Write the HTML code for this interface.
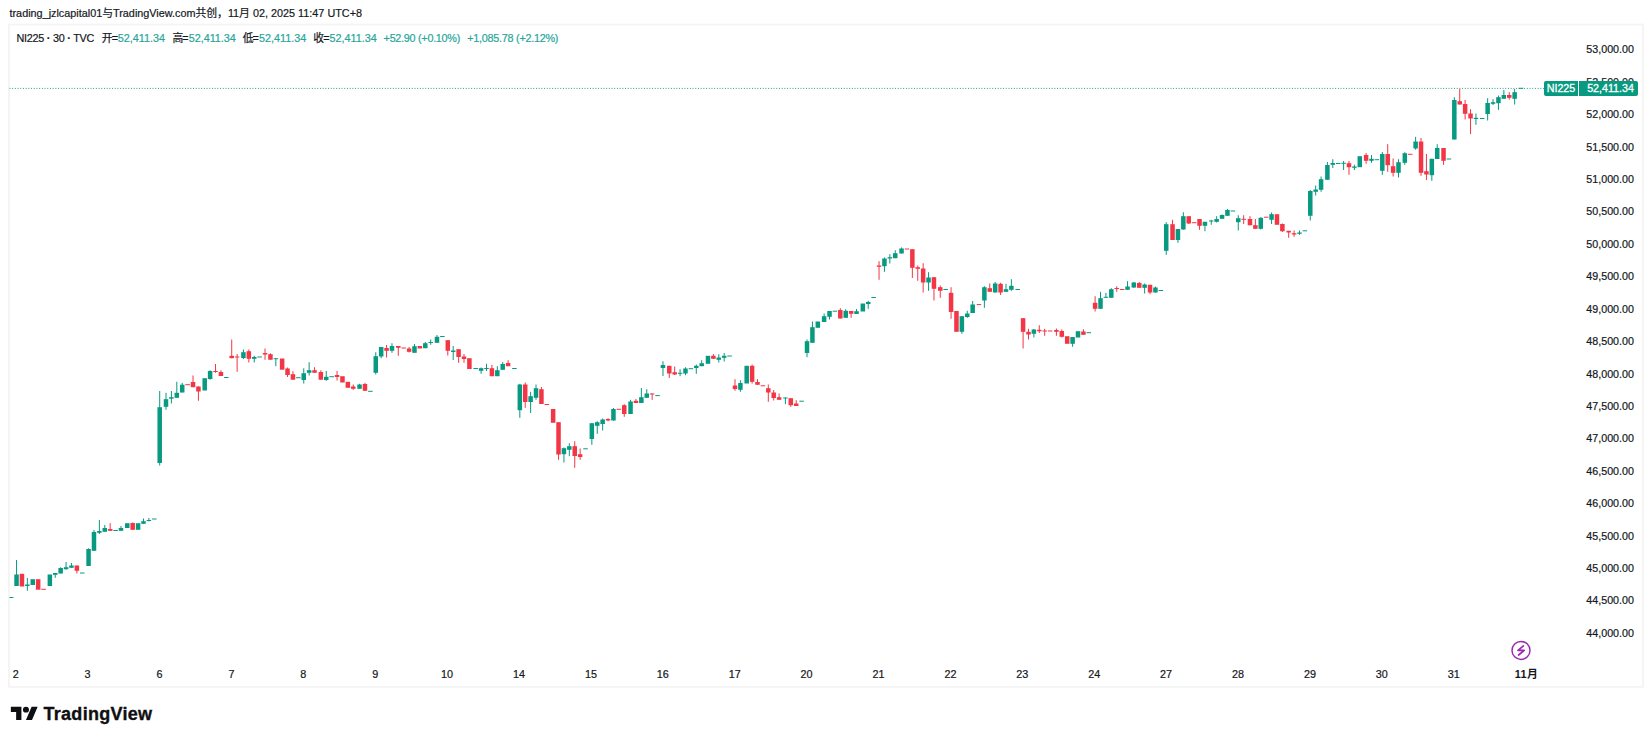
<!DOCTYPE html>
<html lang="zh"><head><meta charset="utf-8"><title>NI225 chart</title>
<style>
html,body{margin:0;padding:0;background:#fff;}
body{width:1652px;height:741px;position:relative;overflow:hidden;font-family:"Liberation Sans","Noto Sans CJK SC",sans-serif;color:#131722;}
#hdr{position:absolute;left:9.5px;top:5px;height:16px;line-height:16px;font-size:10.8px;white-space:nowrap;color:#131722;letter-spacing:0.014px;}
#frame{position:absolute;left:8.05px;top:23.6px;width:1635.85px;height:664.2px;border:1.8px solid #f4f4f6;box-sizing:border-box;}
.lg{position:absolute;top:30px;transform:translateY(-0.5px);height:16px;line-height:16px;font-size:10.8px;white-space:nowrap;color:#131722;}
.lg.g{color:#26a69a;}
.pl,.tl,.lg,#hdr{-webkit-text-stroke:0.2px currentColor;}
.pl{position:absolute;right:18.09999999999991px;height:14px;line-height:14px;font-size:10.7px;white-space:nowrap;color:#131722;}
.tl{position:absolute;top:667px;width:40px;text-align:center;height:14px;line-height:14px;font-size:10.8px;white-space:nowrap;color:#131722;}
.tl.b{font-weight:bold;letter-spacing:0.5px;-webkit-text-stroke:0;}
#chart{position:absolute;left:0;top:0;}
#tag1,#tag2{position:absolute;top:81.2px;height:15px;line-height:15px;background:#089981;color:#fff;font-size:10.7px;white-space:nowrap;text-align:center;border-radius:2px;-webkit-text-stroke:0.3px #fff;}
#tag1{left:1544px;width:34px;border-radius:2px 0 0 2px;}
#tag2{left:1579px;width:54.9px;padding-right:4.1px;text-align:right;border-radius:0 2px 2px 0;}
#logo{position:absolute;left:0;top:0;}
#logotxt{position:absolute;left:43.5px;top:702px;height:24px;line-height:24px;font-size:18px;font-weight:bold;color:#0f0f12;-webkit-text-stroke:0.35px #0f0f12;white-space:nowrap;letter-spacing:0.282px;}
</style></head><body>
<div id="hdr">trading_jzlcapital01与TradingView.com共创，11月 02, 2025 11:47 UTC+8</div>

<span id="s0" class="lg " style="left:16.5px;letter-spacing:-0.247px">NI225 <b>·</b> 30 <b>·</b> TVC</span><span id="s1" class="lg " style="left:101.8px;letter-spacing:-0.955px">开=</span><span id="s2" class="lg g" style="left:117.8px;letter-spacing:-0.004px">52,411.34</span><span id="s3" class="lg " style="left:172.4px;letter-spacing:-0.955px">高=</span><span id="s4" class="lg g" style="left:188.7px;letter-spacing:-0.015px">52,411.34</span><span id="s5" class="lg " style="left:242.7px;letter-spacing:-0.955px">低=</span><span id="s6" class="lg g" style="left:259.0px;letter-spacing:-0.004px">52,411.34</span><span id="s7" class="lg " style="left:313.3px;letter-spacing:-0.955px">收=</span><span id="s8" class="lg g" style="left:329.5px;letter-spacing:0.018px">52,411.34</span><span id="s9" class="lg g" style="left:383.6px;letter-spacing:-0.269px">+52.90 (+0.10%)</span><span id="s10" class="lg g" style="left:467.3px;letter-spacing:-0.253px">+1,085.78 (+2.12%)</span>
<div class="pl" style="top:42.40px">53,000.00</div>
<div class="pl" style="top:74.81px">52,500.00</div>
<div class="pl" style="top:107.22px">52,000.00</div>
<div class="pl" style="top:139.63px">51,500.00</div>
<div class="pl" style="top:172.04px">51,000.00</div>
<div class="pl" style="top:204.45px">50,500.00</div>
<div class="pl" style="top:236.86px">50,000.00</div>
<div class="pl" style="top:269.27px">49,500.00</div>
<div class="pl" style="top:301.68px">49,000.00</div>
<div class="pl" style="top:334.09px">48,500.00</div>
<div class="pl" style="top:366.50px">48,000.00</div>
<div class="pl" style="top:398.91px">47,500.00</div>
<div class="pl" style="top:431.32px">47,000.00</div>
<div class="pl" style="top:463.73px">46,500.00</div>
<div class="pl" style="top:496.14px">46,000.00</div>
<div class="pl" style="top:528.55px">45,500.00</div>
<div class="pl" style="top:560.96px">45,000.00</div>
<div class="pl" style="top:593.37px">44,500.00</div>
<div class="pl" style="top:625.78px">44,000.00</div>
<svg id="chart" width="1652" height="741" viewBox="0 0 1652 741">
<rect x="8.95" y="24.5" width="1634.05" height="662.4" fill="none" stroke="#f4f4f5" stroke-width="1.8"/>
<line x1="9.5" y1="88.4" x2="1544" y2="88.4" stroke="#089981" stroke-width="1" stroke-dasharray="0.9 1.8"/>
<rect x="9.50" y="597.00" width="3.90" height="1" fill="#089981"/>
<rect x="16.05" y="560.00" width="1.0" height="26.00" fill="#089981"/>
<rect x="14.30" y="574.50" width="4.5" height="11.50" fill="#089981"/>
<rect x="19.70" y="573.80" width="4.5" height="12.70" fill="#F23645"/>
<rect x="26.85" y="578.00" width="1.0" height="12.80" fill="#089981"/>
<rect x="25.10" y="584.50" width="4.5" height="1.50" fill="#089981"/>
<rect x="30.51" y="579.20" width="4.5" height="5.80" fill="#089981"/>
<rect x="35.91" y="579.20" width="4.5" height="10.50" fill="#F23645"/>
<rect x="41.31" y="588.80" width="4.50" height="1" fill="#F23645"/>
<rect x="47.61" y="574.50" width="4.5" height="11.50" fill="#089981"/>
<rect x="54.76" y="573.00" width="1.0" height="4.80" fill="#089981"/>
<rect x="53.01" y="573.00" width="4.5" height="1.80" fill="#089981"/>
<rect x="60.16" y="567.20" width="1.0" height="6.30" fill="#089981"/>
<rect x="58.41" y="568.00" width="4.5" height="5.50" fill="#089981"/>
<rect x="65.57" y="562.00" width="1.0" height="7.70" fill="#089981"/>
<rect x="63.82" y="567.20" width="4.5" height="2.00" fill="#089981"/>
<rect x="70.97" y="563.00" width="1.0" height="4.80" fill="#089981"/>
<rect x="69.22" y="565.50" width="4.5" height="2.30" fill="#089981"/>
<rect x="76.37" y="565.50" width="1.0" height="8.00" fill="#F23645"/>
<rect x="74.62" y="565.50" width="4.5" height="5.30" fill="#F23645"/>
<rect x="80.02" y="572.50" width="4.50" height="1" fill="#089981"/>
<rect x="88.07" y="548.30" width="1.0" height="17.70" fill="#089981"/>
<rect x="86.32" y="549.00" width="4.5" height="17.00" fill="#089981"/>
<rect x="93.48" y="530.00" width="1.0" height="20.80" fill="#089981"/>
<rect x="91.73" y="532.00" width="4.5" height="18.80" fill="#089981"/>
<rect x="98.88" y="520.00" width="1.0" height="14.00" fill="#089981"/>
<rect x="97.13" y="531.00" width="4.5" height="1.80" fill="#089981"/>
<rect x="104.28" y="525.00" width="1.0" height="6.80" fill="#089981"/>
<rect x="102.53" y="528.00" width="4.5" height="3.80" fill="#089981"/>
<rect x="109.68" y="523.20" width="1.0" height="7.60" fill="#F23645"/>
<rect x="107.93" y="529.00" width="4.5" height="1.80" fill="#F23645"/>
<rect x="113.33" y="530.00" width="4.50" height="1" fill="#089981"/>
<rect x="120.48" y="526.00" width="1.0" height="4.80" fill="#089981"/>
<rect x="118.73" y="528.00" width="4.5" height="2.80" fill="#089981"/>
<rect x="125.04" y="523.20" width="4.5" height="4.80" fill="#089981"/>
<rect x="132.19" y="522.50" width="1.0" height="7.30" fill="#F23645"/>
<rect x="130.44" y="523.00" width="4.5" height="6.80" fill="#F23645"/>
<rect x="135.84" y="523.20" width="4.5" height="6.60" fill="#089981"/>
<rect x="142.99" y="518.50" width="1.0" height="5.30" fill="#089981"/>
<rect x="141.24" y="521.20" width="4.5" height="2.60" fill="#089981"/>
<rect x="148.39" y="518.00" width="1.0" height="3.50" fill="#089981"/>
<rect x="146.64" y="520.00" width="4.5" height="1.00" fill="#089981"/>
<rect x="152.05" y="518.50" width="4.50" height="1" fill="#089981"/>
<rect x="159.20" y="391.00" width="1.0" height="74.50" fill="#089981"/>
<rect x="157.45" y="407.20" width="4.5" height="55.80" fill="#089981"/>
<rect x="165.50" y="392.80" width="1.0" height="17.00" fill="#089981"/>
<rect x="163.75" y="399.20" width="4.5" height="7.60" fill="#089981"/>
<rect x="170.90" y="391.00" width="1.0" height="12.50" fill="#089981"/>
<rect x="169.15" y="397.20" width="4.5" height="1.50" fill="#089981"/>
<rect x="176.30" y="381.80" width="1.0" height="16.00" fill="#089981"/>
<rect x="174.55" y="392.80" width="4.5" height="5.00" fill="#089981"/>
<rect x="181.71" y="382.80" width="1.0" height="9.70" fill="#089981"/>
<rect x="179.96" y="384.70" width="4.5" height="7.80" fill="#089981"/>
<rect x="185.36" y="384.20" width="4.50" height="1" fill="#F23645"/>
<rect x="192.51" y="375.50" width="1.0" height="11.70" fill="#F23645"/>
<rect x="190.76" y="382.00" width="4.5" height="5.20" fill="#F23645"/>
<rect x="197.91" y="386.50" width="1.0" height="14.30" fill="#F23645"/>
<rect x="196.16" y="386.50" width="4.5" height="5.00" fill="#F23645"/>
<rect x="202.46" y="378.20" width="4.5" height="12.30" fill="#089981"/>
<rect x="209.61" y="370.20" width="1.0" height="9.50" fill="#089981"/>
<rect x="207.86" y="371.00" width="4.5" height="8.00" fill="#089981"/>
<rect x="215.02" y="364.00" width="1.0" height="8.80" fill="#F23645"/>
<rect x="213.27" y="371.00" width="4.5" height="1.00" fill="#F23645"/>
<rect x="220.42" y="370.20" width="1.0" height="5.80" fill="#F23645"/>
<rect x="218.67" y="372.00" width="4.5" height="4.00" fill="#F23645"/>
<rect x="224.07" y="377.00" width="4.50" height="1" fill="#089981"/>
<rect x="231.22" y="339.50" width="1.0" height="18.70" fill="#F23645"/>
<rect x="229.47" y="355.80" width="4.5" height="2.40" fill="#F23645"/>
<rect x="236.62" y="354.00" width="1.0" height="17.80" fill="#F23645"/>
<rect x="234.87" y="356.50" width="4.5" height="1.00" fill="#F23645"/>
<rect x="242.93" y="349.50" width="1.0" height="9.50" fill="#089981"/>
<rect x="241.18" y="352.20" width="4.5" height="5.80" fill="#089981"/>
<rect x="248.33" y="349.50" width="1.0" height="13.00" fill="#F23645"/>
<rect x="246.58" y="351.20" width="4.5" height="7.60" fill="#F23645"/>
<rect x="253.73" y="355.80" width="1.0" height="6.70" fill="#089981"/>
<rect x="251.98" y="357.00" width="4.5" height="1.80" fill="#089981"/>
<rect x="257.38" y="356.50" width="4.50" height="1" fill="#089981"/>
<rect x="264.53" y="348.50" width="1.0" height="11.30" fill="#F23645"/>
<rect x="262.78" y="353.00" width="4.5" height="1.50" fill="#F23645"/>
<rect x="269.93" y="353.30" width="1.0" height="6.40" fill="#F23645"/>
<rect x="268.18" y="354.20" width="4.5" height="5.50" fill="#F23645"/>
<rect x="275.34" y="358.20" width="1.0" height="8.00" fill="#089981"/>
<rect x="273.59" y="358.20" width="4.5" height="1.00" fill="#089981"/>
<rect x="279.89" y="358.50" width="4.5" height="11.20" fill="#F23645"/>
<rect x="287.04" y="367.50" width="1.0" height="9.50" fill="#F23645"/>
<rect x="285.29" y="368.50" width="4.5" height="6.50" fill="#F23645"/>
<rect x="292.44" y="371.20" width="1.0" height="8.50" fill="#F23645"/>
<rect x="290.69" y="374.20" width="4.5" height="5.50" fill="#F23645"/>
<rect x="296.09" y="377.20" width="4.50" height="1" fill="#089981"/>
<rect x="303.25" y="368.30" width="1.0" height="15.20" fill="#089981"/>
<rect x="301.50" y="373.20" width="4.5" height="6.80" fill="#089981"/>
<rect x="308.65" y="362.20" width="1.0" height="13.30" fill="#089981"/>
<rect x="306.90" y="370.20" width="4.5" height="2.60" fill="#089981"/>
<rect x="314.05" y="367.20" width="1.0" height="5.60" fill="#F23645"/>
<rect x="312.30" y="370.20" width="4.5" height="2.60" fill="#F23645"/>
<rect x="320.35" y="370.30" width="1.0" height="9.40" fill="#F23645"/>
<rect x="318.60" y="372.00" width="4.5" height="7.70" fill="#F23645"/>
<rect x="325.75" y="371.00" width="1.0" height="9.80" fill="#089981"/>
<rect x="324.00" y="376.80" width="4.5" height="3.20" fill="#089981"/>
<rect x="329.41" y="376.20" width="4.50" height="1" fill="#089981"/>
<rect x="336.56" y="371.00" width="1.0" height="9.50" fill="#F23645"/>
<rect x="334.81" y="375.00" width="4.5" height="2.00" fill="#F23645"/>
<rect x="340.21" y="376.20" width="4.5" height="6.30" fill="#F23645"/>
<rect x="345.61" y="381.80" width="4.5" height="6.00" fill="#F23645"/>
<rect x="352.76" y="384.50" width="1.0" height="5.30" fill="#F23645"/>
<rect x="351.01" y="386.50" width="4.5" height="2.30" fill="#F23645"/>
<rect x="359.06" y="383.80" width="1.0" height="5.00" fill="#089981"/>
<rect x="357.31" y="384.50" width="4.5" height="4.30" fill="#089981"/>
<rect x="364.47" y="382.80" width="1.0" height="8.00" fill="#F23645"/>
<rect x="362.72" y="384.00" width="4.5" height="6.80" fill="#F23645"/>
<rect x="368.12" y="390.80" width="4.50" height="1" fill="#089981"/>
<rect x="375.27" y="352.20" width="1.0" height="22.30" fill="#089981"/>
<rect x="373.52" y="356.20" width="4.5" height="16.60" fill="#089981"/>
<rect x="380.67" y="347.00" width="1.0" height="11.20" fill="#089981"/>
<rect x="378.92" y="347.00" width="4.5" height="9.50" fill="#089981"/>
<rect x="386.07" y="345.00" width="1.0" height="12.50" fill="#F23645"/>
<rect x="384.32" y="348.00" width="4.5" height="2.80" fill="#F23645"/>
<rect x="391.48" y="343.20" width="1.0" height="9.60" fill="#089981"/>
<rect x="389.73" y="346.00" width="4.5" height="4.80" fill="#089981"/>
<rect x="397.78" y="346.00" width="1.0" height="9.80" fill="#F23645"/>
<rect x="396.03" y="346.00" width="4.5" height="1.80" fill="#F23645"/>
<rect x="401.43" y="347.50" width="4.50" height="1" fill="#F23645"/>
<rect x="408.58" y="347.00" width="1.0" height="5.50" fill="#F23645"/>
<rect x="406.83" y="348.50" width="4.5" height="3.30" fill="#F23645"/>
<rect x="413.98" y="344.00" width="1.0" height="8.80" fill="#089981"/>
<rect x="412.23" y="346.20" width="4.5" height="6.60" fill="#089981"/>
<rect x="417.63" y="346.00" width="4.5" height="2.50" fill="#F23645"/>
<rect x="424.79" y="342.00" width="1.0" height="6.20" fill="#089981"/>
<rect x="423.04" y="343.20" width="4.5" height="5.00" fill="#089981"/>
<rect x="430.19" y="339.50" width="1.0" height="5.30" fill="#089981"/>
<rect x="428.44" y="342.00" width="4.5" height="1.00" fill="#089981"/>
<rect x="436.49" y="335.00" width="1.0" height="7.80" fill="#089981"/>
<rect x="434.74" y="336.80" width="4.5" height="6.00" fill="#089981"/>
<rect x="440.14" y="336.00" width="4.50" height="1" fill="#089981"/>
<rect x="447.29" y="340.20" width="1.0" height="15.30" fill="#F23645"/>
<rect x="445.54" y="340.20" width="4.5" height="10.60" fill="#F23645"/>
<rect x="452.70" y="346.00" width="1.0" height="14.00" fill="#089981"/>
<rect x="450.95" y="350.50" width="4.5" height="1.50" fill="#089981"/>
<rect x="458.10" y="349.20" width="1.0" height="13.60" fill="#F23645"/>
<rect x="456.35" y="349.20" width="4.5" height="7.80" fill="#F23645"/>
<rect x="463.50" y="354.00" width="1.0" height="8.80" fill="#F23645"/>
<rect x="461.75" y="356.50" width="4.5" height="2.50" fill="#F23645"/>
<rect x="467.15" y="358.20" width="4.5" height="10.80" fill="#F23645"/>
<rect x="473.45" y="368.00" width="4.50" height="1" fill="#089981"/>
<rect x="480.60" y="367.50" width="1.0" height="6.30" fill="#089981"/>
<rect x="478.85" y="368.20" width="4.5" height="2.60" fill="#089981"/>
<rect x="486.01" y="363.80" width="1.0" height="7.20" fill="#089981"/>
<rect x="484.26" y="368.00" width="4.5" height="1.00" fill="#089981"/>
<rect x="491.41" y="365.00" width="1.0" height="11.20" fill="#F23645"/>
<rect x="489.66" y="368.20" width="4.5" height="8.00" fill="#F23645"/>
<rect x="496.81" y="366.20" width="1.0" height="10.00" fill="#089981"/>
<rect x="495.06" y="370.20" width="4.5" height="6.00" fill="#089981"/>
<rect x="502.21" y="362.00" width="1.0" height="7.80" fill="#089981"/>
<rect x="500.46" y="364.00" width="4.5" height="5.80" fill="#089981"/>
<rect x="507.61" y="360.20" width="1.0" height="6.00" fill="#F23645"/>
<rect x="505.86" y="363.00" width="4.5" height="3.20" fill="#F23645"/>
<rect x="512.17" y="368.00" width="4.50" height="1" fill="#089981"/>
<rect x="519.32" y="383.80" width="1.0" height="34.00" fill="#089981"/>
<rect x="517.57" y="384.50" width="4.5" height="25.70" fill="#089981"/>
<rect x="524.72" y="382.50" width="1.0" height="25.30" fill="#F23645"/>
<rect x="522.97" y="384.50" width="4.5" height="17.50" fill="#F23645"/>
<rect x="530.12" y="391.80" width="1.0" height="21.20" fill="#089981"/>
<rect x="528.37" y="396.20" width="4.5" height="5.80" fill="#089981"/>
<rect x="535.52" y="384.50" width="1.0" height="15.30" fill="#089981"/>
<rect x="533.77" y="388.20" width="4.5" height="9.60" fill="#089981"/>
<rect x="540.92" y="387.00" width="1.0" height="17.00" fill="#F23645"/>
<rect x="539.17" y="389.20" width="4.5" height="14.80" fill="#F23645"/>
<rect x="544.58" y="404.00" width="4.50" height="1" fill="#F23645"/>
<rect x="550.88" y="409.00" width="4.5" height="13.80" fill="#F23645"/>
<rect x="558.03" y="422.20" width="1.0" height="37.60" fill="#F23645"/>
<rect x="556.28" y="422.20" width="4.5" height="32.30" fill="#F23645"/>
<rect x="563.43" y="447.50" width="1.0" height="15.00" fill="#089981"/>
<rect x="561.68" y="448.20" width="4.5" height="6.00" fill="#089981"/>
<rect x="568.83" y="443.20" width="1.0" height="13.00" fill="#089981"/>
<rect x="567.08" y="446.20" width="4.5" height="3.60" fill="#089981"/>
<rect x="574.24" y="441.20" width="1.0" height="26.60" fill="#F23645"/>
<rect x="572.49" y="446.20" width="4.5" height="9.80" fill="#F23645"/>
<rect x="579.64" y="448.50" width="1.0" height="11.30" fill="#F23645"/>
<rect x="577.89" y="454.20" width="4.5" height="2.80" fill="#F23645"/>
<rect x="583.29" y="448.30" width="4.50" height="1" fill="#089981"/>
<rect x="591.34" y="423.20" width="1.0" height="21.60" fill="#089981"/>
<rect x="589.59" y="423.20" width="4.5" height="15.80" fill="#089981"/>
<rect x="596.74" y="421.20" width="1.0" height="12.60" fill="#089981"/>
<rect x="594.99" y="422.20" width="4.5" height="3.60" fill="#089981"/>
<rect x="602.15" y="418.50" width="1.0" height="12.00" fill="#089981"/>
<rect x="600.40" y="419.50" width="4.5" height="4.50" fill="#089981"/>
<rect x="607.55" y="418.20" width="1.0" height="3.00" fill="#F23645"/>
<rect x="605.80" y="419.00" width="4.5" height="1.50" fill="#F23645"/>
<rect x="612.95" y="408.00" width="1.0" height="12.50" fill="#089981"/>
<rect x="611.20" y="409.00" width="4.5" height="11.50" fill="#089981"/>
<rect x="616.60" y="408.80" width="4.50" height="1" fill="#F23645"/>
<rect x="623.75" y="404.20" width="1.0" height="12.60" fill="#F23645"/>
<rect x="622.00" y="405.20" width="4.5" height="8.80" fill="#F23645"/>
<rect x="630.05" y="399.80" width="1.0" height="14.20" fill="#089981"/>
<rect x="628.30" y="401.50" width="4.5" height="12.50" fill="#089981"/>
<rect x="635.46" y="399.00" width="1.0" height="4.00" fill="#F23645"/>
<rect x="633.71" y="400.80" width="4.5" height="2.20" fill="#F23645"/>
<rect x="640.86" y="388.00" width="1.0" height="15.00" fill="#089981"/>
<rect x="639.11" y="397.20" width="4.5" height="5.80" fill="#089981"/>
<rect x="646.26" y="389.20" width="1.0" height="8.60" fill="#089981"/>
<rect x="644.51" y="393.50" width="4.5" height="4.30" fill="#089981"/>
<rect x="651.66" y="393.50" width="1.0" height="6.30" fill="#F23645"/>
<rect x="649.91" y="393.50" width="4.5" height="1.00" fill="#F23645"/>
<rect x="655.31" y="395.10" width="4.50" height="1" fill="#089981"/>
<rect x="662.47" y="361.20" width="1.0" height="14.80" fill="#089981"/>
<rect x="660.72" y="365.00" width="4.5" height="3.00" fill="#089981"/>
<rect x="668.77" y="365.80" width="1.0" height="12.20" fill="#F23645"/>
<rect x="667.02" y="365.80" width="4.5" height="7.70" fill="#F23645"/>
<rect x="674.17" y="366.50" width="1.0" height="8.50" fill="#F23645"/>
<rect x="672.42" y="372.20" width="4.5" height="2.30" fill="#F23645"/>
<rect x="679.57" y="369.20" width="1.0" height="7.00" fill="#089981"/>
<rect x="677.82" y="372.80" width="4.5" height="1.00" fill="#089981"/>
<rect x="684.97" y="367.20" width="1.0" height="8.00" fill="#089981"/>
<rect x="683.22" y="368.50" width="4.5" height="5.00" fill="#089981"/>
<rect x="688.62" y="368.20" width="4.50" height="1" fill="#089981"/>
<rect x="695.78" y="364.50" width="1.0" height="9.30" fill="#089981"/>
<rect x="694.03" y="365.80" width="4.5" height="2.20" fill="#089981"/>
<rect x="701.18" y="360.20" width="1.0" height="6.00" fill="#089981"/>
<rect x="699.43" y="363.20" width="4.5" height="3.00" fill="#089981"/>
<rect x="705.73" y="355.80" width="4.5" height="8.00" fill="#089981"/>
<rect x="712.88" y="354.00" width="1.0" height="4.80" fill="#F23645"/>
<rect x="711.13" y="355.80" width="4.5" height="3.00" fill="#F23645"/>
<rect x="718.28" y="354.20" width="1.0" height="8.30" fill="#089981"/>
<rect x="716.53" y="357.50" width="4.5" height="2.30" fill="#089981"/>
<rect x="723.69" y="353.00" width="1.0" height="8.50" fill="#089981"/>
<rect x="721.94" y="355.80" width="4.5" height="2.00" fill="#089981"/>
<rect x="727.34" y="355.50" width="4.50" height="1" fill="#089981"/>
<rect x="734.49" y="379.20" width="1.0" height="11.60" fill="#F23645"/>
<rect x="732.74" y="385.50" width="4.5" height="3.50" fill="#F23645"/>
<rect x="739.89" y="380.20" width="1.0" height="11.60" fill="#089981"/>
<rect x="738.14" y="383.00" width="4.5" height="6.80" fill="#089981"/>
<rect x="744.44" y="365.80" width="4.5" height="17.70" fill="#089981"/>
<rect x="751.60" y="364.50" width="1.0" height="19.00" fill="#F23645"/>
<rect x="749.85" y="365.80" width="4.5" height="16.00" fill="#F23645"/>
<rect x="757.00" y="379.20" width="1.0" height="5.60" fill="#F23645"/>
<rect x="755.25" y="382.00" width="4.5" height="2.80" fill="#F23645"/>
<rect x="760.65" y="385.30" width="4.50" height="1" fill="#F23645"/>
<rect x="767.80" y="384.50" width="1.0" height="17.30" fill="#F23645"/>
<rect x="766.05" y="388.20" width="4.5" height="4.30" fill="#F23645"/>
<rect x="773.20" y="390.00" width="1.0" height="10.50" fill="#F23645"/>
<rect x="771.45" y="392.50" width="4.5" height="5.50" fill="#F23645"/>
<rect x="778.60" y="393.50" width="1.0" height="6.30" fill="#F23645"/>
<rect x="776.85" y="397.20" width="4.5" height="2.60" fill="#F23645"/>
<rect x="784.91" y="397.50" width="1.0" height="6.70" fill="#089981"/>
<rect x="783.16" y="397.50" width="4.5" height="1.00" fill="#089981"/>
<rect x="790.31" y="398.20" width="1.0" height="8.60" fill="#F23645"/>
<rect x="788.56" y="398.20" width="4.5" height="7.00" fill="#F23645"/>
<rect x="795.71" y="400.20" width="1.0" height="5.80" fill="#F23645"/>
<rect x="793.96" y="403.50" width="4.5" height="2.50" fill="#F23645"/>
<rect x="799.36" y="400.70" width="4.50" height="1" fill="#089981"/>
<rect x="806.51" y="339.50" width="1.0" height="17.70" fill="#089981"/>
<rect x="804.76" y="341.20" width="4.5" height="11.80" fill="#089981"/>
<rect x="811.92" y="321.50" width="1.0" height="21.30" fill="#089981"/>
<rect x="810.17" y="327.20" width="4.5" height="15.60" fill="#089981"/>
<rect x="815.57" y="321.50" width="4.5" height="6.30" fill="#089981"/>
<rect x="823.62" y="313.50" width="1.0" height="8.50" fill="#089981"/>
<rect x="821.87" y="316.20" width="4.5" height="5.80" fill="#089981"/>
<rect x="829.02" y="311.00" width="1.0" height="8.50" fill="#089981"/>
<rect x="827.27" y="311.00" width="4.5" height="5.80" fill="#089981"/>
<rect x="832.67" y="310.70" width="4.50" height="1" fill="#089981"/>
<rect x="839.82" y="308.20" width="1.0" height="10.30" fill="#F23645"/>
<rect x="838.07" y="310.00" width="4.5" height="8.50" fill="#F23645"/>
<rect x="845.23" y="309.20" width="1.0" height="8.60" fill="#089981"/>
<rect x="843.48" y="310.80" width="4.5" height="7.00" fill="#089981"/>
<rect x="850.63" y="311.00" width="1.0" height="6.80" fill="#F23645"/>
<rect x="848.88" y="311.00" width="4.5" height="2.80" fill="#F23645"/>
<rect x="856.03" y="309.00" width="1.0" height="5.00" fill="#089981"/>
<rect x="854.28" y="311.20" width="4.5" height="2.80" fill="#089981"/>
<rect x="860.58" y="303.50" width="4.5" height="8.00" fill="#089981"/>
<rect x="867.73" y="300.80" width="1.0" height="8.00" fill="#089981"/>
<rect x="865.98" y="302.00" width="4.5" height="2.00" fill="#089981"/>
<rect x="871.39" y="297.00" width="4.50" height="1" fill="#089981"/>
<rect x="878.54" y="261.20" width="1.0" height="18.60" fill="#F23645"/>
<rect x="876.79" y="265.50" width="4.5" height="1.30" fill="#F23645"/>
<rect x="883.94" y="257.50" width="1.0" height="14.30" fill="#089981"/>
<rect x="882.19" y="258.50" width="4.5" height="7.70" fill="#089981"/>
<rect x="889.34" y="254.20" width="1.0" height="9.30" fill="#089981"/>
<rect x="887.59" y="257.20" width="4.5" height="1.30" fill="#089981"/>
<rect x="894.74" y="250.20" width="1.0" height="8.00" fill="#089981"/>
<rect x="892.99" y="253.20" width="4.5" height="5.00" fill="#089981"/>
<rect x="901.04" y="247.50" width="1.0" height="6.00" fill="#089981"/>
<rect x="899.29" y="248.50" width="4.5" height="5.00" fill="#089981"/>
<rect x="904.70" y="248.50" width="4.50" height="1" fill="#F23645"/>
<rect x="911.85" y="249.20" width="1.0" height="28.80" fill="#F23645"/>
<rect x="910.10" y="249.20" width="4.5" height="18.60" fill="#F23645"/>
<rect x="917.25" y="265.50" width="1.0" height="15.30" fill="#F23645"/>
<rect x="915.50" y="267.20" width="4.5" height="1.60" fill="#F23645"/>
<rect x="922.65" y="263.20" width="1.0" height="29.30" fill="#F23645"/>
<rect x="920.90" y="268.50" width="4.5" height="14.00" fill="#F23645"/>
<rect x="928.05" y="272.20" width="1.0" height="18.60" fill="#089981"/>
<rect x="926.30" y="277.50" width="4.5" height="5.00" fill="#089981"/>
<rect x="933.46" y="277.20" width="1.0" height="23.30" fill="#F23645"/>
<rect x="931.71" y="277.20" width="4.5" height="11.60" fill="#F23645"/>
<rect x="939.76" y="285.50" width="1.0" height="12.30" fill="#F23645"/>
<rect x="938.01" y="287.20" width="4.5" height="3.60" fill="#F23645"/>
<rect x="943.41" y="289.00" width="4.50" height="1" fill="#089981"/>
<rect x="950.56" y="287.20" width="1.0" height="31.60" fill="#F23645"/>
<rect x="948.81" y="292.80" width="4.5" height="19.20" fill="#F23645"/>
<rect x="954.21" y="311.00" width="4.5" height="20.80" fill="#F23645"/>
<rect x="961.36" y="316.20" width="1.0" height="17.60" fill="#089981"/>
<rect x="959.61" y="316.20" width="4.5" height="15.60" fill="#089981"/>
<rect x="966.77" y="310.80" width="1.0" height="7.00" fill="#089981"/>
<rect x="965.02" y="313.50" width="4.5" height="3.50" fill="#089981"/>
<rect x="972.17" y="301.00" width="1.0" height="12.00" fill="#089981"/>
<rect x="970.42" y="304.50" width="4.5" height="8.50" fill="#089981"/>
<rect x="976.72" y="304.10" width="4.50" height="1" fill="#F23645"/>
<rect x="983.87" y="286.20" width="1.0" height="21.60" fill="#089981"/>
<rect x="982.12" y="287.20" width="4.5" height="13.30" fill="#089981"/>
<rect x="989.27" y="283.50" width="1.0" height="8.30" fill="#F23645"/>
<rect x="987.52" y="288.20" width="4.5" height="3.60" fill="#F23645"/>
<rect x="994.68" y="282.00" width="1.0" height="10.50" fill="#089981"/>
<rect x="992.93" y="283.50" width="4.5" height="9.00" fill="#089981"/>
<rect x="1000.08" y="282.80" width="1.0" height="12.20" fill="#F23645"/>
<rect x="998.33" y="283.80" width="4.5" height="8.70" fill="#F23645"/>
<rect x="1005.48" y="283.80" width="1.0" height="8.00" fill="#089981"/>
<rect x="1003.73" y="289.20" width="4.5" height="2.60" fill="#089981"/>
<rect x="1010.88" y="279.20" width="1.0" height="11.60" fill="#089981"/>
<rect x="1009.13" y="285.80" width="4.5" height="4.00" fill="#089981"/>
<rect x="1015.43" y="289.00" width="4.50" height="1" fill="#089981"/>
<rect x="1022.59" y="318.20" width="1.0" height="30.30" fill="#F23645"/>
<rect x="1020.84" y="318.20" width="4.5" height="13.60" fill="#F23645"/>
<rect x="1027.99" y="328.80" width="1.0" height="10.70" fill="#F23645"/>
<rect x="1026.24" y="331.80" width="4.5" height="2.70" fill="#F23645"/>
<rect x="1033.39" y="329.00" width="1.0" height="8.50" fill="#089981"/>
<rect x="1031.64" y="329.50" width="4.5" height="4.30" fill="#089981"/>
<rect x="1038.79" y="325.20" width="1.0" height="7.80" fill="#F23645"/>
<rect x="1037.04" y="329.80" width="4.5" height="1.40" fill="#F23645"/>
<rect x="1044.19" y="328.80" width="1.0" height="7.00" fill="#F23645"/>
<rect x="1042.44" y="330.50" width="4.5" height="1.00" fill="#F23645"/>
<rect x="1047.84" y="330.50" width="4.50" height="1" fill="#F23645"/>
<rect x="1055.90" y="328.50" width="1.0" height="7.30" fill="#F23645"/>
<rect x="1054.15" y="330.00" width="4.5" height="1.80" fill="#F23645"/>
<rect x="1061.30" y="329.50" width="1.0" height="8.00" fill="#F23645"/>
<rect x="1059.55" y="331.00" width="4.5" height="5.80" fill="#F23645"/>
<rect x="1064.95" y="336.20" width="4.5" height="7.60" fill="#F23645"/>
<rect x="1072.10" y="337.00" width="1.0" height="9.80" fill="#089981"/>
<rect x="1070.35" y="337.00" width="4.5" height="6.80" fill="#089981"/>
<rect x="1075.75" y="331.20" width="4.5" height="6.30" fill="#089981"/>
<rect x="1082.91" y="329.20" width="1.0" height="5.60" fill="#F23645"/>
<rect x="1081.16" y="331.50" width="4.5" height="3.30" fill="#F23645"/>
<rect x="1086.56" y="332.20" width="4.50" height="1" fill="#089981"/>
<rect x="1094.61" y="296.20" width="1.0" height="15.30" fill="#F23645"/>
<rect x="1092.86" y="302.80" width="4.5" height="6.00" fill="#F23645"/>
<rect x="1100.01" y="291.80" width="1.0" height="17.00" fill="#089981"/>
<rect x="1098.26" y="298.20" width="4.5" height="10.60" fill="#089981"/>
<rect x="1105.41" y="292.80" width="1.0" height="5.00" fill="#089981"/>
<rect x="1103.66" y="296.80" width="4.5" height="1.00" fill="#089981"/>
<rect x="1110.81" y="288.20" width="1.0" height="9.60" fill="#089981"/>
<rect x="1109.06" y="289.20" width="4.5" height="8.60" fill="#089981"/>
<rect x="1116.22" y="286.20" width="1.0" height="5.60" fill="#F23645"/>
<rect x="1114.47" y="288.00" width="4.5" height="1.00" fill="#F23645"/>
<rect x="1119.87" y="289.00" width="4.50" height="1" fill="#F23645"/>
<rect x="1127.02" y="281.20" width="1.0" height="8.60" fill="#089981"/>
<rect x="1125.27" y="286.50" width="4.5" height="3.30" fill="#089981"/>
<rect x="1133.32" y="282.00" width="1.0" height="6.00" fill="#089981"/>
<rect x="1131.57" y="282.50" width="4.5" height="5.00" fill="#089981"/>
<rect x="1138.72" y="282.00" width="1.0" height="5.80" fill="#F23645"/>
<rect x="1136.97" y="283.00" width="4.5" height="4.80" fill="#F23645"/>
<rect x="1144.13" y="283.50" width="1.0" height="10.00" fill="#089981"/>
<rect x="1142.38" y="284.50" width="4.5" height="3.30" fill="#089981"/>
<rect x="1149.53" y="284.80" width="1.0" height="9.40" fill="#F23645"/>
<rect x="1147.78" y="284.80" width="4.5" height="7.70" fill="#F23645"/>
<rect x="1154.93" y="286.50" width="1.0" height="6.00" fill="#089981"/>
<rect x="1153.18" y="287.50" width="4.5" height="5.00" fill="#089981"/>
<rect x="1158.58" y="290.00" width="4.50" height="1" fill="#089981"/>
<rect x="1165.73" y="222.20" width="1.0" height="32.60" fill="#089981"/>
<rect x="1163.98" y="224.20" width="4.5" height="26.60" fill="#089981"/>
<rect x="1172.04" y="219.80" width="1.0" height="20.20" fill="#F23645"/>
<rect x="1170.29" y="224.20" width="4.5" height="15.80" fill="#F23645"/>
<rect x="1177.44" y="229.00" width="1.0" height="13.80" fill="#089981"/>
<rect x="1175.69" y="229.00" width="4.5" height="11.00" fill="#089981"/>
<rect x="1182.84" y="212.20" width="1.0" height="17.30" fill="#089981"/>
<rect x="1181.09" y="216.20" width="4.5" height="13.30" fill="#089981"/>
<rect x="1188.24" y="216.20" width="1.0" height="7.80" fill="#F23645"/>
<rect x="1186.49" y="216.20" width="4.5" height="7.30" fill="#F23645"/>
<rect x="1191.89" y="222.20" width="4.50" height="1" fill="#F23645"/>
<rect x="1199.04" y="219.00" width="1.0" height="10.80" fill="#F23645"/>
<rect x="1197.29" y="219.00" width="4.5" height="6.80" fill="#F23645"/>
<rect x="1204.45" y="221.80" width="1.0" height="9.40" fill="#089981"/>
<rect x="1202.70" y="221.80" width="4.5" height="4.00" fill="#089981"/>
<rect x="1210.75" y="219.80" width="1.0" height="5.00" fill="#089981"/>
<rect x="1209.00" y="220.50" width="4.5" height="1.00" fill="#089981"/>
<rect x="1216.15" y="216.20" width="1.0" height="6.30" fill="#089981"/>
<rect x="1214.40" y="219.00" width="4.5" height="2.80" fill="#089981"/>
<rect x="1221.55" y="214.50" width="1.0" height="4.30" fill="#089981"/>
<rect x="1219.80" y="215.00" width="4.5" height="3.80" fill="#089981"/>
<rect x="1226.95" y="209.00" width="1.0" height="6.80" fill="#089981"/>
<rect x="1225.20" y="210.00" width="4.5" height="5.80" fill="#089981"/>
<rect x="1230.61" y="210.50" width="4.50" height="1" fill="#089981"/>
<rect x="1237.76" y="215.20" width="1.0" height="15.30" fill="#089981"/>
<rect x="1236.01" y="218.20" width="4.5" height="4.00" fill="#089981"/>
<rect x="1243.16" y="215.20" width="1.0" height="8.80" fill="#F23645"/>
<rect x="1241.41" y="218.80" width="4.5" height="1.00" fill="#F23645"/>
<rect x="1249.46" y="216.20" width="1.0" height="9.30" fill="#F23645"/>
<rect x="1247.71" y="219.00" width="4.5" height="6.20" fill="#F23645"/>
<rect x="1254.86" y="219.00" width="1.0" height="9.80" fill="#F23645"/>
<rect x="1253.11" y="225.20" width="4.5" height="3.60" fill="#F23645"/>
<rect x="1260.26" y="217.20" width="1.0" height="12.30" fill="#089981"/>
<rect x="1258.51" y="217.80" width="4.5" height="11.00" fill="#089981"/>
<rect x="1263.92" y="216.70" width="4.50" height="1" fill="#F23645"/>
<rect x="1271.07" y="212.50" width="1.0" height="11.50" fill="#089981"/>
<rect x="1269.32" y="214.20" width="4.5" height="5.60" fill="#089981"/>
<rect x="1274.72" y="214.20" width="4.5" height="10.60" fill="#F23645"/>
<rect x="1281.87" y="223.50" width="1.0" height="8.50" fill="#F23645"/>
<rect x="1280.12" y="224.00" width="4.5" height="7.20" fill="#F23645"/>
<rect x="1288.17" y="230.80" width="1.0" height="7.00" fill="#F23645"/>
<rect x="1286.42" y="230.80" width="4.5" height="1.70" fill="#F23645"/>
<rect x="1293.58" y="230.50" width="1.0" height="6.30" fill="#F23645"/>
<rect x="1291.83" y="233.20" width="4.5" height="1.30" fill="#F23645"/>
<rect x="1298.98" y="230.50" width="1.0" height="4.30" fill="#089981"/>
<rect x="1297.23" y="232.50" width="4.5" height="1.30" fill="#089981"/>
<rect x="1302.63" y="230.30" width="4.50" height="1" fill="#089981"/>
<rect x="1309.78" y="190.00" width="1.0" height="30.50" fill="#089981"/>
<rect x="1308.03" y="191.00" width="4.5" height="24.80" fill="#089981"/>
<rect x="1315.18" y="185.50" width="1.0" height="10.00" fill="#089981"/>
<rect x="1313.43" y="189.50" width="4.5" height="2.30" fill="#089981"/>
<rect x="1320.58" y="176.50" width="1.0" height="15.30" fill="#089981"/>
<rect x="1318.83" y="179.20" width="4.5" height="10.60" fill="#089981"/>
<rect x="1326.89" y="162.00" width="1.0" height="17.80" fill="#089981"/>
<rect x="1325.14" y="165.00" width="4.5" height="14.80" fill="#089981"/>
<rect x="1332.29" y="159.20" width="1.0" height="8.80" fill="#089981"/>
<rect x="1330.54" y="163.00" width="4.5" height="1.80" fill="#089981"/>
<rect x="1335.94" y="163.00" width="4.50" height="1" fill="#089981"/>
<rect x="1343.09" y="161.00" width="1.0" height="9.00" fill="#089981"/>
<rect x="1341.34" y="162.80" width="4.5" height="1.00" fill="#089981"/>
<rect x="1348.49" y="161.00" width="1.0" height="13.80" fill="#F23645"/>
<rect x="1346.74" y="163.20" width="4.5" height="4.00" fill="#F23645"/>
<rect x="1353.90" y="164.80" width="1.0" height="5.20" fill="#089981"/>
<rect x="1352.15" y="166.50" width="4.5" height="1.30" fill="#089981"/>
<rect x="1357.55" y="156.20" width="4.5" height="11.00" fill="#089981"/>
<rect x="1365.60" y="153.00" width="1.0" height="10.80" fill="#F23645"/>
<rect x="1363.85" y="155.00" width="4.5" height="5.80" fill="#F23645"/>
<rect x="1371.00" y="155.00" width="1.0" height="7.80" fill="#089981"/>
<rect x="1369.25" y="158.80" width="4.5" height="2.00" fill="#089981"/>
<rect x="1374.65" y="159.20" width="4.50" height="1" fill="#089981"/>
<rect x="1381.81" y="152.00" width="1.0" height="22.80" fill="#089981"/>
<rect x="1380.06" y="154.00" width="4.5" height="16.80" fill="#089981"/>
<rect x="1387.21" y="144.20" width="1.0" height="27.60" fill="#F23645"/>
<rect x="1385.46" y="154.00" width="4.5" height="11.20" fill="#F23645"/>
<rect x="1392.61" y="158.50" width="1.0" height="18.00" fill="#F23645"/>
<rect x="1390.86" y="166.20" width="4.5" height="6.60" fill="#F23645"/>
<rect x="1398.01" y="159.20" width="1.0" height="18.30" fill="#089981"/>
<rect x="1396.26" y="162.20" width="4.5" height="10.60" fill="#089981"/>
<rect x="1404.31" y="152.20" width="1.0" height="12.60" fill="#089981"/>
<rect x="1402.56" y="153.20" width="4.5" height="9.60" fill="#089981"/>
<rect x="1407.96" y="153.80" width="4.50" height="1" fill="#F23645"/>
<rect x="1415.12" y="136.80" width="1.0" height="13.00" fill="#089981"/>
<rect x="1413.37" y="141.50" width="4.5" height="7.00" fill="#089981"/>
<rect x="1420.52" y="138.00" width="1.0" height="37.80" fill="#F23645"/>
<rect x="1418.77" y="141.50" width="4.5" height="31.30" fill="#F23645"/>
<rect x="1425.92" y="154.00" width="1.0" height="26.00" fill="#F23645"/>
<rect x="1424.17" y="171.20" width="4.5" height="3.30" fill="#F23645"/>
<rect x="1431.32" y="158.80" width="1.0" height="22.00" fill="#089981"/>
<rect x="1429.57" y="158.80" width="4.5" height="16.40" fill="#089981"/>
<rect x="1436.72" y="144.20" width="1.0" height="14.80" fill="#089981"/>
<rect x="1434.97" y="148.00" width="4.5" height="11.00" fill="#089981"/>
<rect x="1443.03" y="148.00" width="1.0" height="16.80" fill="#F23645"/>
<rect x="1441.28" y="148.00" width="4.5" height="12.80" fill="#F23645"/>
<rect x="1446.68" y="158.50" width="4.50" height="1" fill="#089981"/>
<rect x="1453.83" y="97.20" width="1.0" height="42.30" fill="#089981"/>
<rect x="1452.08" y="100.00" width="4.5" height="39.50" fill="#089981"/>
<rect x="1459.23" y="89.00" width="1.0" height="15.50" fill="#F23645"/>
<rect x="1457.48" y="101.20" width="4.5" height="3.30" fill="#F23645"/>
<rect x="1464.63" y="100.00" width="1.0" height="19.50" fill="#F23645"/>
<rect x="1462.88" y="104.00" width="4.5" height="9.80" fill="#F23645"/>
<rect x="1470.03" y="109.20" width="1.0" height="24.80" fill="#F23645"/>
<rect x="1468.28" y="113.50" width="4.5" height="5.00" fill="#F23645"/>
<rect x="1475.44" y="113.50" width="1.0" height="11.30" fill="#089981"/>
<rect x="1473.69" y="117.80" width="4.5" height="1.20" fill="#089981"/>
<rect x="1479.99" y="118.00" width="4.50" height="1" fill="#089981"/>
<rect x="1487.14" y="98.20" width="1.0" height="22.30" fill="#089981"/>
<rect x="1485.39" y="103.00" width="4.5" height="11.00" fill="#089981"/>
<rect x="1492.54" y="99.20" width="1.0" height="5.80" fill="#089981"/>
<rect x="1490.79" y="102.20" width="4.5" height="1.60" fill="#089981"/>
<rect x="1497.94" y="95.50" width="1.0" height="14.30" fill="#089981"/>
<rect x="1496.19" y="97.20" width="4.5" height="6.00" fill="#089981"/>
<rect x="1503.35" y="90.00" width="1.0" height="8.80" fill="#089981"/>
<rect x="1501.60" y="95.00" width="4.5" height="3.80" fill="#089981"/>
<rect x="1508.75" y="92.20" width="1.0" height="7.30" fill="#F23645"/>
<rect x="1507.00" y="95.00" width="4.5" height="2.80" fill="#F23645"/>
<rect x="1514.15" y="89.00" width="1.0" height="15.50" fill="#089981"/>
<rect x="1512.40" y="92.20" width="4.5" height="6.60" fill="#089981"/>
<rect x="1518.70" y="87.80" width="4.50" height="1" fill="#089981"/>
<g fill="none" stroke="#9c27b0" stroke-width="1.45">
<circle cx="1521.0" cy="650.4" r="9.0"/>
</g>
<path d="M1523.4 645.9 L1518.0 650.35 L1524.2 650.45 L1518.6 655.0" fill="none" stroke="#9c27b0" stroke-width="1.7" stroke-linejoin="round" stroke-linecap="round"/>
</svg>
<div id="tag1">NI225</div><div id="tag2">52,411.34</div>
<div class="tl" style="left:-4.30px">2</div>
<div class="tl" style="left:67.60px">3</div>
<div class="tl" style="left:139.50px">6</div>
<div class="tl" style="left:211.40px">7</div>
<div class="tl" style="left:283.30px">8</div>
<div class="tl" style="left:355.20px">9</div>
<div class="tl" style="left:427.10px">10</div>
<div class="tl" style="left:499.00px">14</div>
<div class="tl" style="left:570.90px">15</div>
<div class="tl" style="left:642.80px">16</div>
<div class="tl" style="left:714.70px">17</div>
<div class="tl" style="left:786.60px">20</div>
<div class="tl" style="left:858.50px">21</div>
<div class="tl" style="left:930.40px">22</div>
<div class="tl" style="left:1002.30px">23</div>
<div class="tl" style="left:1074.20px">24</div>
<div class="tl" style="left:1146.10px">27</div>
<div class="tl" style="left:1218.00px">28</div>
<div class="tl" style="left:1289.90px">29</div>
<div class="tl" style="left:1361.80px">30</div>
<div class="tl" style="left:1433.70px">31</div>
<div class="tl b" style="left:1506.50px">11月</div>
<svg id="logo" width="1652" height="741" viewBox="0 0 1652 741">
<g transform="translate(10.85,703.75) scale(0.755,0.739)" fill="#0f0f12">
<path d="M14 22H7V11H0V4h14v18zM28 22h-8l7.5-18h8L28 22z"/><circle cx="20" cy="8" r="4"/>
</g></svg>
<div id="logotxt">TradingView</div>
</body></html>
